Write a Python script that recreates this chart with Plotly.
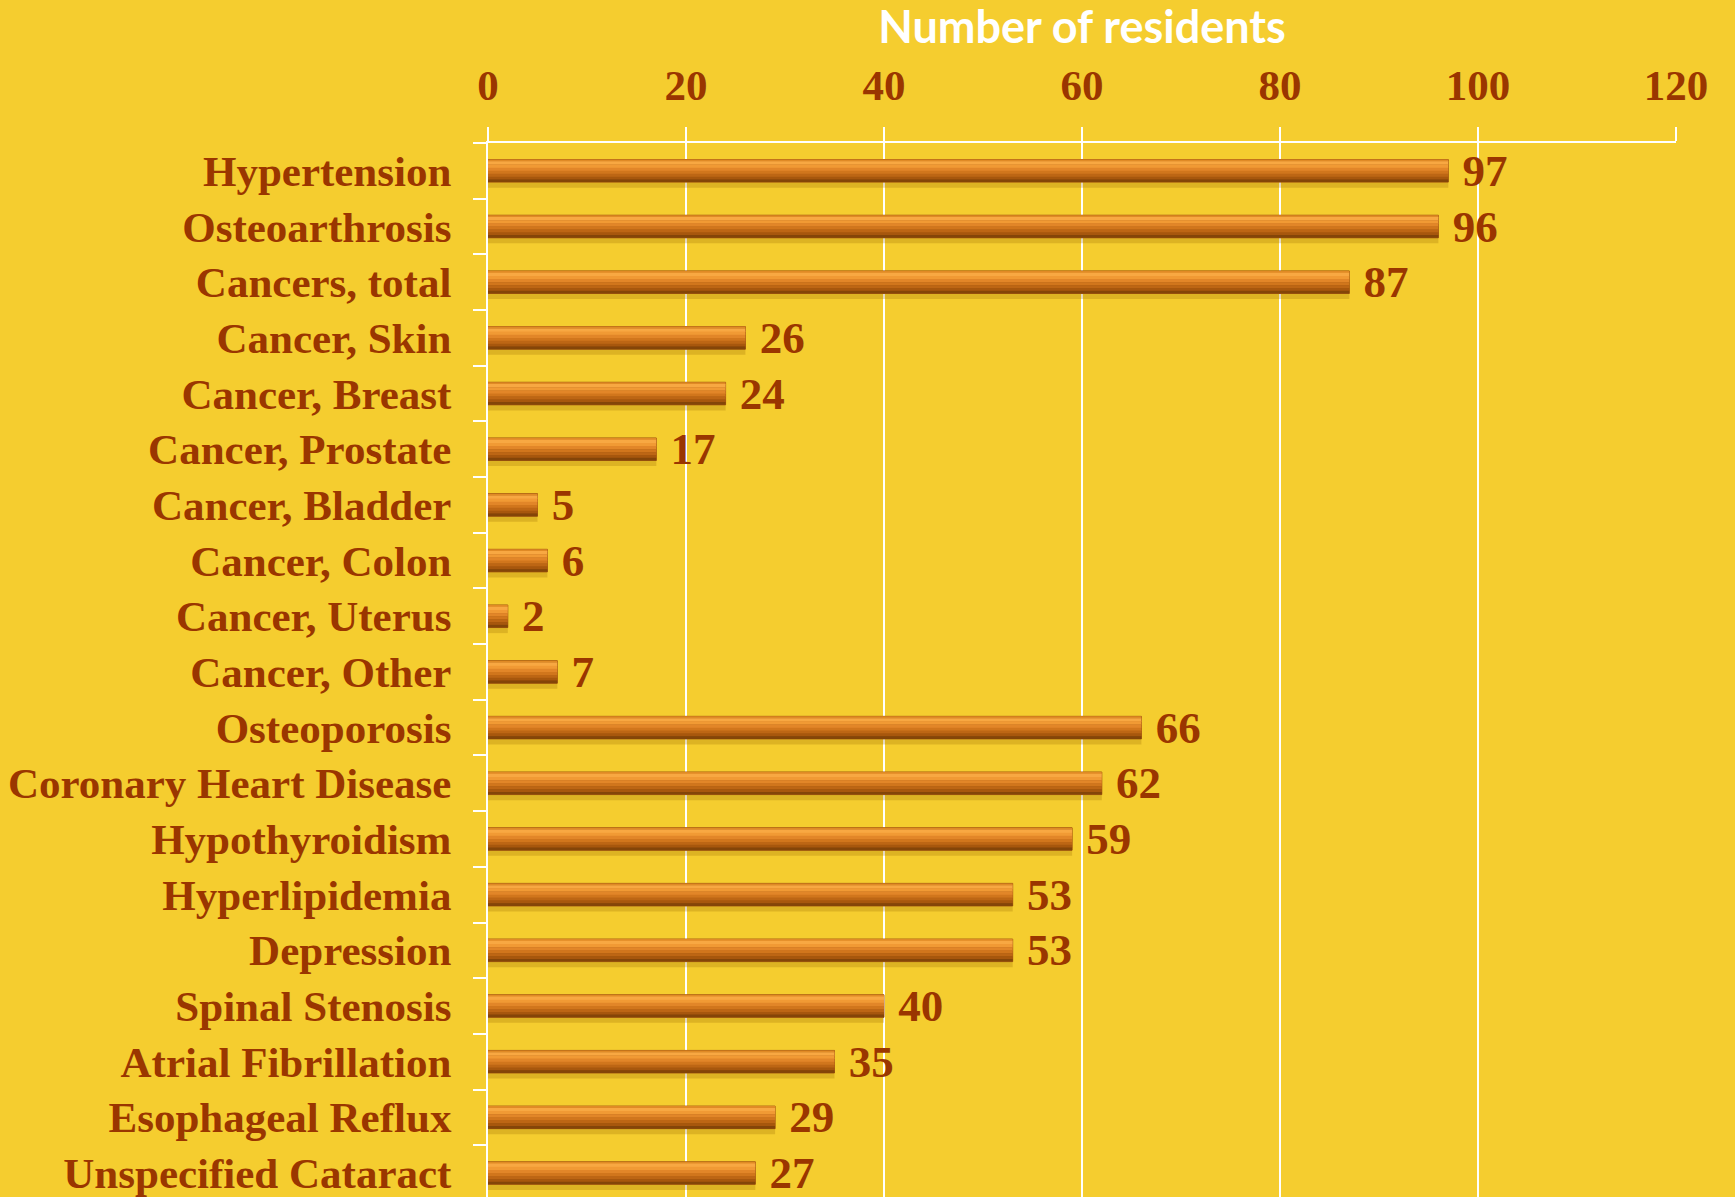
import plotly.graph_objects as go

# data
conditions = [
    "Hypertension", "Osteoarthrosis", "Cancers, total", "Cancer, Skin",
    "Cancer, Breast", "Cancer, Prostate", "Cancer, Bladder", "Cancer, Colon",
    "Cancer, Uterus", "Cancer, Other", "Osteoporosis", "Coronary Heart Disease",
    "Hypothyroidism", "Hyperlipidemia", "Depression", "Spinal Stenosis",
    "Atrial Fibrillation", "Esophageal Reflux", "Unspecified Cataract",
]
residents = [97, 96, 87, 26, 24, 17, 5, 6, 2, 7, 66, 62, 59, 53, 53, 40, 35, 29, 27]
x_ticks = [0, 20, 40, 60, 80, 100, 120]

BG = "#F5CD2F"
TXT = "#9A3600"
SERIF = "Liberation Serif, Times New Roman, serif"
BW = 0.405  # bar thickness in category units

# stripes that fake the bevelled/gradient look of the bars (top -> bottom)
stripes = [
    (0.00, 0.08, "#E08A25"),
    (0.08, 0.22, "#F8A842"),
    (0.22, 0.36, "#F19A34"),
    (0.36, 0.50, "#E28628"),
    (0.50, 0.63, "#D1761C"),
    (0.63, 0.76, "#BD6614"),
    (0.76, 0.88, "#A7570D"),
    (0.88, 1.00, "#844508"),
]

fig = go.Figure()

# soft shadow under the bars
fig.add_trace(go.Bar(
    x=residents, y=conditions, orientation="h",
    offset=-BW / 2 + 0.07, width=BW + 0.03,
    marker=dict(color="rgba(150,105,0,0.25)", line=dict(width=0)),
    hoverinfo="skip", showlegend=False,
))

# base bar carrying the value labels
fig.add_trace(go.Bar(
    x=residents, y=conditions, orientation="h",
    offset=-BW / 2, width=BW,
    marker=dict(color="#8A4A0A", line=dict(color="#A65A10", width=1)),
    text=["\u00a0" + str(v) for v in residents],
    textposition="outside",
    constraintext="none",
    outsidetextfont=dict(family=SERIF, size=45, color=TXT, weight="bold"),
    cliponaxis=False,
    showlegend=False,
))

# each stripe overlaps the next a little so no seams show
for i, (a, b, col) in enumerate(stripes):
    extra = 0.006 if i < len(stripes) - 1 else 0
    fig.add_trace(go.Bar(
        x=residents, y=conditions, orientation="h",
        offset=-BW / 2 + a * BW, width=(b - a) * BW + extra,
        marker=dict(color=col, line=dict(width=0)),
        hoverinfo="skip", showlegend=False,
    ))

fig.update_layout(
    width=1735, height=1197,
    barmode="overlay",
    paper_bgcolor=BG, plot_bgcolor=BG,
    margin=dict(l=488, r=59, t=143, b=0, pad=0),
    title=dict(
        text="Number of residents",
        x=0.5, xref="paper", xanchor="center",
        y=1 - 27 / 1197, yref="container", yanchor="middle",
        font=dict(family="Lato, Open Sans, sans-serif", size=45, color="white", weight="bold"),
    ),
    xaxis=dict(
        side="top", range=[0, 120],
        tickvals=x_ticks, ticktext=[str(t) for t in x_ticks],
        showgrid=True, gridcolor="white", gridwidth=1.5,
        showline=True, linecolor="white", linewidth=2,
        ticks="outside", ticklen=14, tickcolor="white", tickwidth=1.5,
        ticklabelstandoff=10,
        tickfont=dict(family=SERIF, size=43, color=TXT, weight="bold"),
        zeroline=False,
    ),
    yaxis=dict(
        categoryorder="array", categoryarray=conditions,
        range=[18.43, -0.5],
        showline=True, linecolor="white", linewidth=2,
        ticks="outside", tickson="boundaries", ticklen=13,
        tickcolor="white", tickwidth=1.5,
        ticklabelstandoff=26,
        tickfont=dict(family=SERIF, size=43, color=TXT, weight="bold"),
        showgrid=False,
    ),
)

# drop the browser's default page margin so the chart fills the window
fig.write_html("out.html", config={"displayModeBar": False},
               post_script="document.body.style.margin='0';")
